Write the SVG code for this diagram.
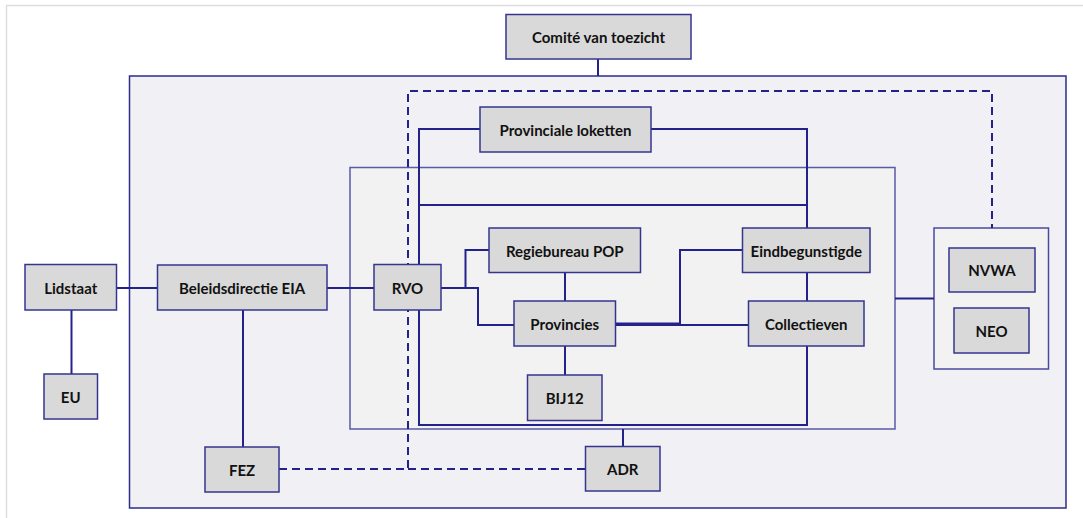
<svg xmlns="http://www.w3.org/2000/svg" width="1083" height="518" viewBox="0 0 1083 518">
<style>
.node rect{fill:#d9d9d9;stroke:#35358f;stroke-width:1.5}
.node text{font-family:Lato,"Liberation Sans",sans-serif;font-weight:bold;font-size:15px;fill:#111111;text-anchor:middle;dominant-baseline:central}
.c{fill:none;stroke:#22228a;stroke-width:2}
.d{fill:none;stroke:#22228a;stroke-width:2;stroke-dasharray:8,5}
</style>
<rect x="0" y="0" width="1083" height="518" fill="#ffffff"/>
<path d="M6.5,518 V5.5 H1083" fill="none" stroke="#dddddd" stroke-width="1.5"/>
<g id="outer-container">
<rect x="129.5" y="76" width="936.5" height="432" fill="#f0f0f5" stroke="#2d2d8c" stroke-width="1.5"/>
</g>
<g id="inner-container">
<rect x="350" y="167.5" width="545" height="261.5" fill="#f2f2f2" stroke="#5a5aa6" stroke-width="1.5"/>
</g>
<g id="nvwa-container">
<rect x="934" y="228" width="114.5" height="141" fill="#f2f2f2" stroke="#4a4aa0" stroke-width="1.5"/>
</g>
<g id="connectors">
<path class="d" d="M408,310 V91 H992 V228"/>
<path class="d" d="M279,469 H408 V310"/>
<path class="d" d="M408,469 H585"/>
<path class="c" d="M598,59 V76"/>
<path class="c" d="M116,288 H157"/>
<path class="c" d="M71.5,310 V374"/>
<path class="c" d="M243,310 V447"/>
<path class="c" d="M327,288 H374"/>
<path class="c" d="M480,129 H419 V425 H807 V346"/>
<path class="c" d="M651,129 H807 V228"/>
<path class="c" d="M419,205 H807"/>
<path class="c" d="M441,288 H465.5 V250 H489"/>
<path class="c" d="M441,288 H478 V325 H514"/>
<path class="c" d="M565,272 V301"/>
<path class="c" d="M565,346 V375"/>
<path class="c" d="M807,272 V301"/>
<path class="c" d="M615,323.5 H680 V250 H742.5"/>
<path class="c" d="M615,325 H748.5"/>
<path class="c" d="M895,298.5 H934"/>
<path class="c" d="M623,429 V447"/>
</g>
<g id="comite" class="node"><rect x="506" y="14.5" width="185" height="44.5"/><text x="598.5" y="37">Comité van toezicht</text></g>
<g id="provinciale-loketten" class="node"><rect x="480" y="107" width="171" height="45"/><text x="565.5" y="129.5">Provinciale loketten</text></g>
<g id="lidstaat" class="node"><rect x="25" y="264.5" width="91.5" height="45.5"/><text x="70.75" y="287.5">Lidstaat</text></g>
<g id="beleidsdirectie" class="node"><rect x="157.5" y="265" width="169.5" height="45"/><text x="242" y="287.5">Beleidsdirectie EIA</text></g>
<g id="rvo" class="node"><rect x="374" y="264.5" width="67" height="45.5"/><text x="407.5" y="287.5">RVO</text></g>
<g id="eu" class="node"><rect x="44" y="374" width="53.5" height="45"/><text x="70.75" y="397">EU</text></g>
<g id="fez" class="node"><rect x="205" y="447" width="74" height="45"/><text x="242" y="470">FEZ</text></g>
<g id="regiebureau" class="node"><rect x="489" y="228" width="151.5" height="44.5"/><text x="564.75" y="250.5">Regiebureau POP</text></g>
<g id="provincies" class="node"><rect x="514" y="301" width="101.5" height="45"/><text x="564.75" y="323.5">Provincies</text></g>
<g id="bij12" class="node"><rect x="527.5" y="375" width="74.5" height="45.5"/><text x="564.75" y="398">BIJ12</text></g>
<g id="eindbegunstigde" class="node"><rect x="742.5" y="228" width="127.5" height="44.5"/><text x="806.25" y="250.5">Eindbegunstigde</text></g>
<g id="collectieven" class="node"><rect x="748.5" y="301" width="115.5" height="45"/><text x="806.25" y="323.5">Collectieven</text></g>
<g id="nvwa" class="node"><rect x="949" y="248" width="86" height="44"/><text x="992" y="270">NVWA</text></g>
<g id="neo" class="node"><rect x="954" y="308" width="75" height="45"/><text x="991.5" y="330.5">NEO</text></g>
<g id="adr" class="node"><rect x="585.5" y="446.5" width="74.5" height="44.5"/><text x="622.75" y="469">ADR</text></g>
</svg>
